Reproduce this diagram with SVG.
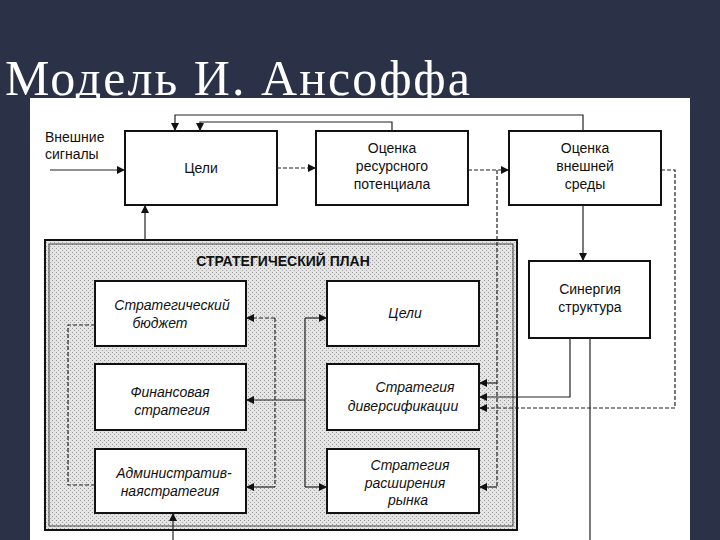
<svg xmlns="http://www.w3.org/2000/svg" width="720" height="540" viewBox="0 0 720 540">
<defs>
<marker id="ah" viewBox="0 0 10 10" refX="10" refY="5" markerWidth="7" markerHeight="7" orient="auto-start-reverse"><path d="M0,0 L10,5 L0,10 z" fill="#111"/></marker>
<pattern id="dots" width="4" height="4" patternUnits="userSpaceOnUse"><rect width="4" height="4" fill="#e4e4e4"/><rect width="1" height="1" fill="#999"/><rect x="2" y="2" width="1" height="1" fill="#aaa"/></pattern>
</defs>
<style>
.box{fill:#fff;stroke:#111;stroke-width:2}
.t{font-family:"Liberation Sans",Arial,sans-serif;font-size:14px;fill:#111;text-anchor:middle}
.s{text-anchor:start}
.i{font-style:italic}
.c{fill:none;stroke:#222;stroke-width:1.2}
.d{stroke-dasharray:4 2}
.a{marker-end:url(#ah)}
</style>
<rect width="720" height="540" fill="#2b3248"/>
<rect x="30" y="98" width="660" height="442" fill="#fff"/>
<text x="5" y="95" font-family="Liberation Serif,serif" font-size="50" fill="#fff" textLength="465">Модель И. Ансоффа</text>

<g id="plan">
<rect x="45" y="240" width="472" height="290" fill="url(#dots)" stroke="#111" stroke-width="2"/>
<rect x="49" y="244" width="464" height="282" fill="none" stroke="#444" stroke-width="1"/>
<text class="t" x="283" y="266" font-weight="bold">СТРАТЕГИЧЕСКИЙ  ПЛАН</text>
</g>

<g id="goals"><rect class="box" x="125" y="131" width="152" height="74"/><text class="t" x="201" y="173">Цели</text></g>
<g id="resource"><rect class="box" x="316" y="131" width="152" height="74"/><text class="t" x="392" y="153">Оценка</text><text class="t" x="392" y="171">ресурсного</text><text class="t" x="392" y="189">потенциала</text></g>
<g id="env"><rect class="box" x="509" y="131" width="152" height="74"/><text class="t" x="585" y="153">Оценка</text><text class="t" x="585" y="171">внешней</text><text class="t" x="585" y="189">среды</text></g>
<g id="synergy"><rect class="box" x="529" y="261" width="121" height="77"/><text class="t" x="590" y="294">Синергия</text><text class="t" x="590" y="312">структура</text></g>
<g id="budget"><rect class="box" x="95" y="281" width="151" height="65"/><text class="t i" x="172" y="310">Стратегический</text><text class="t i" x="160" y="328">бюджет</text></g>
<g id="finance"><rect class="box" x="95" y="364" width="151" height="66"/><text class="t i" x="170" y="397">Финансовая</text><text class="t i" x="172" y="415">стратегия</text></g>
<g id="admin"><rect class="box" x="95" y="449" width="151" height="64"/><text class="t i" x="174" y="478">Административ-</text><text class="t i" x="170" y="496">наястратегия</text></g>
<g id="goals2"><rect class="box" x="327" y="281" width="152" height="65"/><text class="t i" x="405" y="318">Цели</text></g>
<g id="divers"><rect class="box" x="327" y="364" width="152" height="66"/><text class="t i" x="415" y="392">Стратегия</text><text class="t i" x="403" y="411">диверсификации</text></g>
<g id="market"><rect class="box" x="327" y="449" width="152" height="64"/><text class="t i" x="410" y="470">Стратегия</text><text class="t i" x="405" y="488">расширения</text><text class="t i" x="408" y="505">рынка</text></g>

<text class="t s" x="45" y="142">Внешние</text>
<text class="t s" x="45" y="159">сигналы</text>

<g id="connectors">
<path class="c a" d="M50,170 H125"/>
<path class="c d a" d="M277,168 H316"/>
<path class="c d a" d="M468,170 H509"/>
<path class="c a" d="M583,131 V115 H175 V131"/>
<path class="c a" d="M392,131 V122 H200 V131"/>
<path class="c a" d="M145,240 V205"/>
<path class="c a" d="M583,205 V261"/>
<path class="c d" d="M497,170 V487"/>
<path class="c a" d="M497,383 H479"/>
<path class="c a" d="M497,487 H479"/>
<path class="c d a" d="M661,170 H675 V408 H479"/>
<path class="c a" d="M570,338 V397 H479"/>
<path class="c" d="M590,338 V540"/>
<path class="c a" d="M173,540 V513"/>
<path class="c d" d="M95,325 H68 V485 H95"/>
<path class="c d a" d="M275,318 H246"/>
<path class="c d" d="M275,318 V487"/>
<path class="c a" d="M275,487 H246"/>
<path class="c a" d="M305,400 H246"/>
<path class="c" d="M305,318 V487"/>
<path class="c a" d="M305,318 H327"/>
<path class="c a" d="M305,487 H327"/>
</g>
</svg>
